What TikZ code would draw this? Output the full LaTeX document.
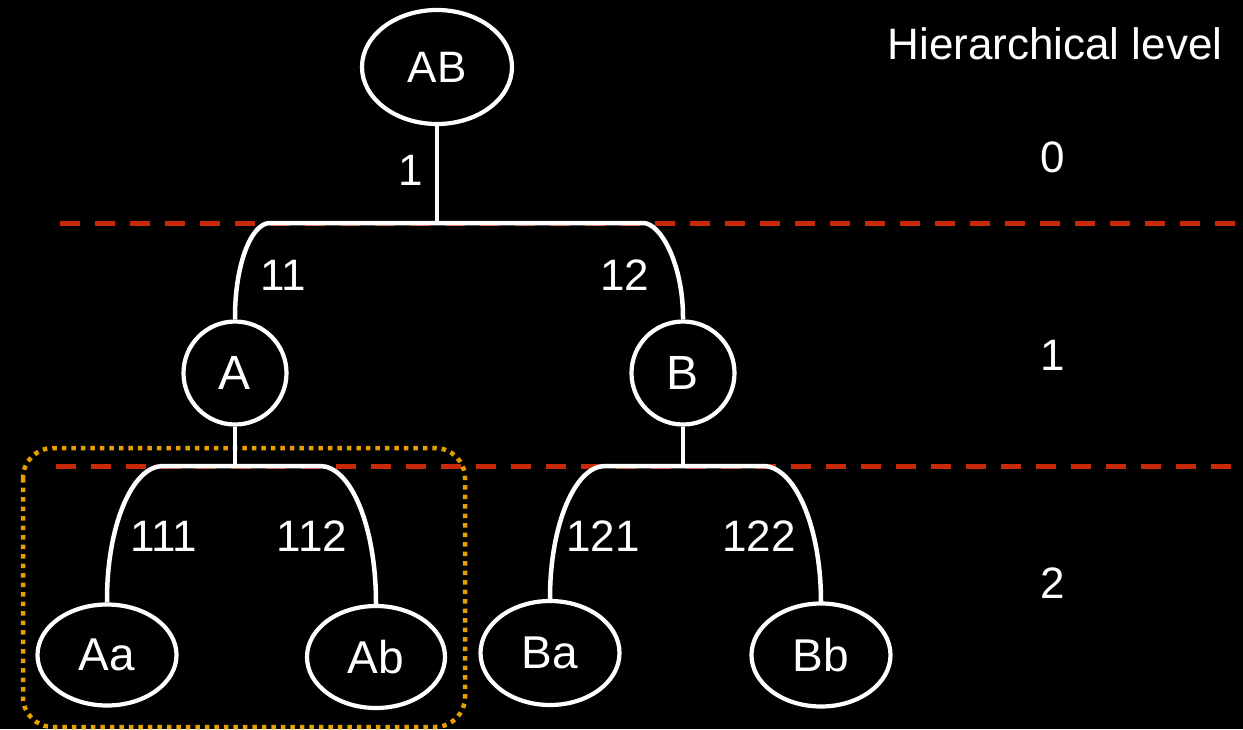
\documentclass[tikz,border=0pt]{standalone}
\usepackage{fontspec}
\setmainfont{Liberation Sans}
\usetikzlibrary{shapes.geometric}
\definecolor{levelred}{RGB}{200,41,10}
\definecolor{boxorange}{RGB}{230,159,0}
\tikzset{
  edge/.style={draw=white, line width=4.5pt, line cap=butt},
  ellnode/.style={ellipse, draw=white, line width=4.2pt, fill=black, text=white, inner sep=0pt,
     font=\fontsize{46}{50}\selectfont},
  circnode/.style={circle, draw=white, line width=4.2pt, fill=black, text=white, inner sep=0pt,
     minimum size=103pt, font=\fontsize{48}{52}\selectfont},
  elabel/.style={text=white, inner sep=0pt, font=\fontsize{44}{48}\selectfont},
  levelline/.style={draw=levelred, line width=5pt, dash pattern=on 20pt off 15pt},
  groupbox/.style={draw=boxorange, line width=4.5pt, dash pattern=on 4.5pt off 5pt, rounded corners=30pt},
}
\begin{document}
\begin{tikzpicture}[x=1pt, y=-1pt]
\fill[black] (0,0) rectangle (1243,729);
\useasboundingbox (0,0) rectangle (1243,729);

% level separators
\coordinate (s1a) at (60,223);  \coordinate (s1b) at (1236,223);
\coordinate (s2a) at (56,466);  \coordinate (s2b) at (1232,466);
\draw[levelline] (s1a) -- (s1b);
\draw[levelline] (s2a) -- (s2b);

% group box
\draw[groupbox] (23,448) rectangle (465,727);

% nodes
\node[ellnode, minimum width=150pt, minimum height=114pt, font=\fontsize{44}{48}\selectfont] (AB) at (437,67) {AB};
\node[circnode] (A) at (235,373) {A};
\node[circnode] (B) at (683,373) {B};
\node[ellnode, minimum width=139pt, minimum height=101pt] (Aa) at (107,655) {Aa};
\node[ellnode, minimum width=138pt, minimum height=102pt] (Ab) at (376,657) {Ab};
\node[ellnode, minimum width=139pt, minimum height=104pt] (Ba) at (550,653) {Ba};
\node[ellnode, minimum width=139pt, minimum height=103pt] (Bb) at (821,655) {Bb};

% junctions
\coordinate (j0) at (437,223);
\coordinate (j1) at (235,466);
\coordinate (j2) at (683,466);

% level 0 -> 1
\draw[edge] (AB.south) -- (j0);
\draw[edge] (A.north) -- (235,317) .. controls (235,265) and (251,223) .. (270,223) -- (j0);
\draw[edge] (B.north) -- (683,317) .. controls (683,265) and (661,223) .. (643,223) -- (j0);

% level 1 -> 2 (A)
\draw[edge] (A.south) -- (j1);
\draw[edge] (Aa.north) -- (107,600) .. controls (107,526) and (132,466) .. (163,466) -- (j1);
\draw[edge] (Ab.north) -- (376,603) .. controls (376,527) and (351,466) .. (320,466) -- (j1);

% level 1 -> 2 (B)
\draw[edge] (B.south) -- (j2);
\draw[edge] (Ba.north) -- (550,598) .. controls (550,525) and (575,466) .. (605,466) -- (j2);
\draw[edge] (Bb.north) -- (821,602) .. controls (821,527) and (795,466) .. (763,466) -- (j2);

% edge labels
\node[elabel] (l1) at (411,170) {1};
\node[elabel] (l11) at (283,275) {11};
\node[elabel] (l12) at (625,275) {12};
\node[elabel] (l111) at (164,536) {111};
\node[elabel] (l112) at (312,536) {112};
\node[elabel] (l121) at (603,536) {121};
\node[elabel] (l122) at (759,536) {122};

% hierarchical levels
\node[elabel] (title) at (1055,44) {Hierarchical level};
\node[elabel] (lv0) at (1053,157) {0};
\node[elabel] (lv1) at (1053,355) {1};
\node[elabel] (lv2) at (1053,583) {2};
\end{tikzpicture}
\end{document}
